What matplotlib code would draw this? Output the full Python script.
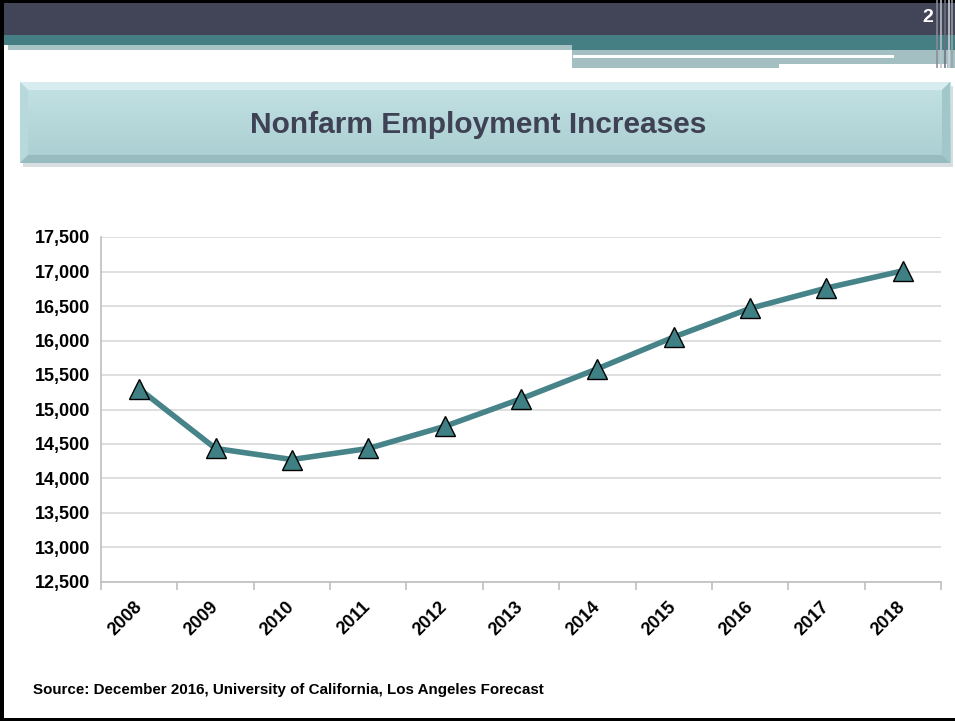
import numpy as np
import matplotlib
matplotlib.use('Agg')
import matplotlib.pyplot as plt
from matplotlib.patches import Rectangle, Polygon
from matplotlib.ticker import FuncFormatter, MultipleLocator

plt.rcParams['font.family'] = ['Liberation Sans Narrow', 'Liberation Sans', 'DejaVu Sans']

years = ['2008', '2009', '2010', '2011', '2012', '2013', '2014', '2015', '2016', '2017', '2018']
jobs = [15300, 14435, 14275, 14435, 14755, 15155, 15590, 16050, 16465, 16760, 17010]

title = 'Nonfarm Employment Increases'
source = 'Source: December 2016, University of California, Los Angeles Forecast'

W, H = 955, 721
fig = plt.figure(figsize=(W / 100, H / 100), dpi=100)

# background / decoration layer in pixel coordinates
bg = fig.add_axes([0, 0, 1, 1])
bg.set_xlim(0, W)
bg.set_ylim(H, 0)
bg.axis('off')

bg.add_patch(Rectangle((0, 0), W, 35, color='#424457', lw=0))
bg.add_patch(Rectangle((0, 0), W, 3, color='black', lw=0))
bg.add_patch(Rectangle((0, 35), W, 10, color='#457f84', lw=0))
bg.add_patch(Rectangle((572, 45), W - 572, 5, color='#457f84', lw=0))
bg.add_patch(Rectangle((8, 45), 564, 5, color='#a7c3c6', lw=0))
bg.add_patch(Rectangle((572, 50), W - 572, 18, color='#a3bfc2', lw=0))
bg.add_patch(Rectangle((573, 55), 321, 2.5, color='white', lw=0))
bg.add_patch(Rectangle((779, 64), 168, 4, color='white', lw=0))
for sx, sc in [(936, '#8a8c99'), (940, '#b9c2c8'), (944, '#6f7183'), (948, '#d0d6da'), (951, '#9aa0aa')]:
    bg.add_patch(Rectangle((sx, 0), 2, 68, color=sc, lw=0, alpha=0.8))
bg.text(928, 18, '2', color='white', fontsize=14, fontweight='bold', ha='center', va='center')

# frame
bg.add_patch(Rectangle((0, 0), 4, H, color='black', lw=0))
bg.add_patch(Rectangle((0, H - 3), W, 3, color='black', lw=0))

# title box with bevel
x0, y0, x1, y1, b = 20, 82, 950, 163, 8
bg.add_patch(Rectangle((x0 + 3, y0 + 4), x1 - x0, y1 - y0, color='#d8dddf', lw=0))
grad = np.linspace(0, 1, 100).reshape(-1, 1)
bg.imshow(grad, extent=(x0, x1, y1, y0), cmap=matplotlib.colors.LinearSegmentedColormap.from_list(
    'tb', ['#c4e2e4', '#a9ced1']), aspect='auto', zorder=1)
bg.add_patch(Polygon([(x0, y0), (x1, y0), (x1 - b, y0 + b), (x0 + b, y0 + b)], color='#d6ecee', lw=0, zorder=2))
bg.add_patch(Polygon([(x0, y0), (x0 + b, y0 + b), (x0 + b, y1 - b), (x0, y1)], color='#b8d9dc', lw=0, zorder=2))
bg.add_patch(Polygon([(x1, y0), (x1, y1), (x1 - b, y1 - b), (x1 - b, y0 + b)], color='#a2c7cb', lw=0, zorder=2))
bg.add_patch(Polygon([(x0, y1), (x1, y1), (x1 - b, y1 - b), (x0 + b, y1 - b)], color='#96bcc0', lw=0, zorder=2))
bg.text(478, 125, title, color='#3f4254', fontsize=21.5, fontweight='bold',
        ha='center', va='center', zorder=3)

bg.text(33, 690, source, color='black', fontsize=10.9, fontweight='bold', ha='left', va='center')

# chart
ax = fig.add_axes([101 / W, (H - 582) / H, 840 / W, 345 / H])
x = np.arange(len(years))
ax.plot(x, jobs, color='#46848a', lw=4, marker='^', ms=14,
        mfc='#3f8085', mec='black', mew=1, zorder=3, clip_on=False)
ax.set_xlim(-0.5, len(years) - 0.5)
ax.set_ylim(12500, 17500)
ax.yaxis.set_major_locator(MultipleLocator(500))
ax.yaxis.set_major_formatter(FuncFormatter(lambda v, p: f'{int(v):,}'))
ax.grid(axis='y', color='#d9d9d9', lw=1.2)
ax.set_axisbelow(True)
for s in ['top', 'right']:
    ax.spines[s].set_visible(False)
for s in ['left', 'bottom']:
    ax.spines[s].set_color('#bfbfbf')
    ax.spines[s].set_linewidth(1.2)
ax.set_xticks(x)
ax.set_xticklabels(years, rotation=45, ha='right', va='center', rotation_mode='anchor')
ax.set_xticks(np.arange(-0.5, len(years)), minor=True)
ax.tick_params(axis='x', which='major', length=0, pad=16, labelsize=13)
ax.tick_params(axis='x', which='minor', length=6, color='#bfbfbf', width=1.2)
ax.tick_params(axis='y', length=0, pad=8, labelsize=13)
for lab in ax.get_xticklabels() + ax.get_yticklabels():
    lab.set_fontweight('bold')

fig.savefig('out.png', dpi=100)
